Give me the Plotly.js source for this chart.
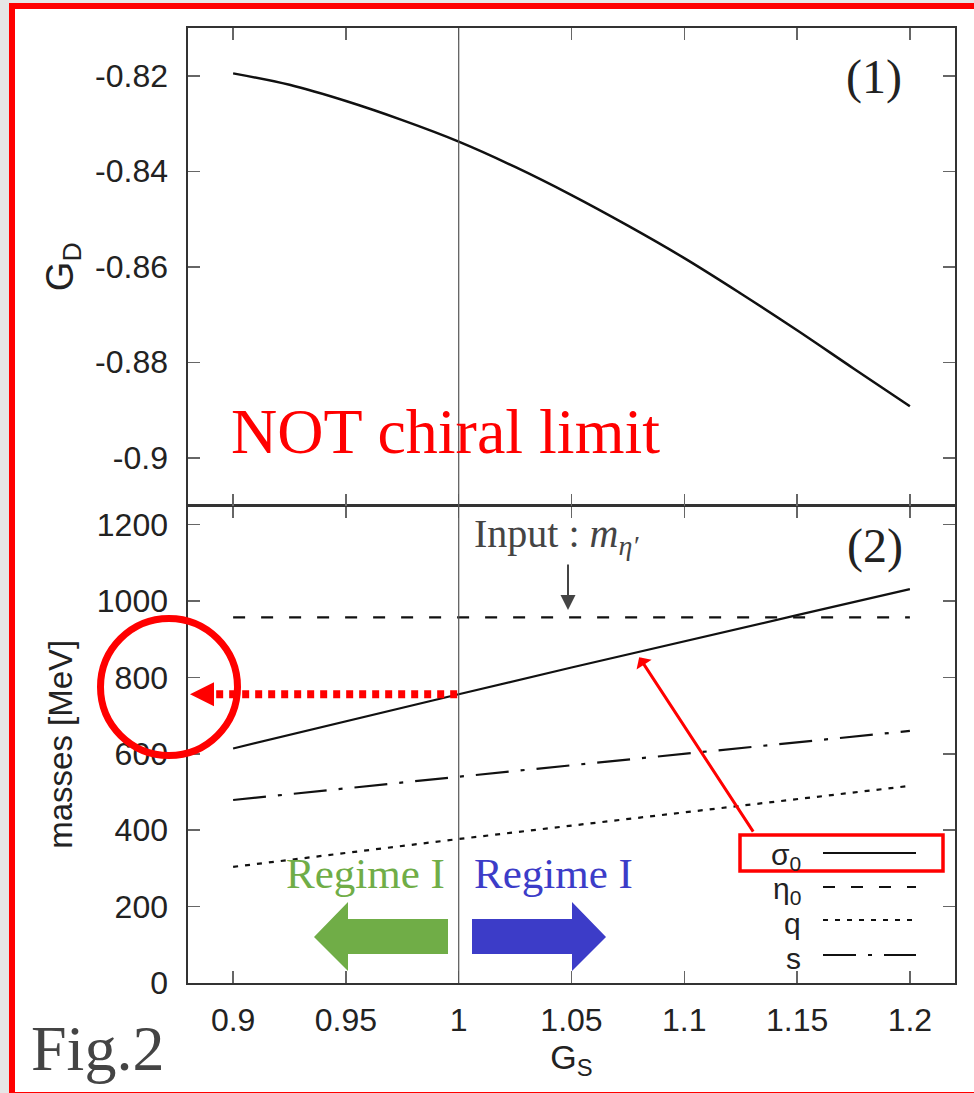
<!DOCTYPE html>
<html>
<head>
<meta charset="utf-8">
<script src="https://cdn.plot.ly/plotly-3.0.1.min.js"></script>
<style>
  html, body { margin: 0; padding: 0; background: #e6e6e6; }
  #wrap { position: relative; width: 974px; height: 1093px; overflow: hidden; }
  #frame { position: absolute; left: 9px; top: 3px; width: 959px; height: 1083px;
           border: 6px solid #ff0000; background: #ffffff; box-sizing: content-box; }
  #plot { position: absolute; left: 0; top: 0; width: 974px; height: 1093px; }
</style>
</head>
<body>
<div id="wrap">
  <div id="frame"></div>
  <div id="plot"></div>
</div>
<script>
// ---- data ----
const gsFine = [0.9, 0.925, 0.95, 0.975, 1.0, 1.025, 1.05, 1.075, 1.1, 1.125, 1.15, 1.175, 1.2];
const gD = [-0.8195, -0.8219, -0.8253, -0.8293, -0.8338, -0.8391, -0.8450, -0.8514, -0.8582, -0.8656, -0.8733, -0.8813, -0.8892];

const gs = [0.9, 0.95, 1.0, 1.05, 1.1, 1.15, 1.2];
const sigma0 = [614, 686, 756, 826, 895, 963, 1031];
const eta0 = [957, 957, 957, 957, 957, 957, 957];
const quark = [304, 341, 377, 412, 447, 482, 516];
const strange = [479, 510, 540, 570, 600, 630, 660];

const xTickVals = [0.9, 0.95, 1.0, 1.05, 1.1, 1.15, 1.2];
const xTickText = ['0.9', '0.95', '1', '1.05', '1.1', '1.15', '1.2'];
const gdTickVals = [-0.82, -0.84, -0.86, -0.88, -0.9];
const gdTickText = ['-0.82', '-0.84', '-0.86', '-0.88', '-0.9'];
const massTickVals = [0, 200, 400, 600, 800, 1000, 1200];
const massTickText = ['0', '200', '400', '600', '800', '1000', '1200'];

const seriesNames = ['σ<sub>0</sub>', 'η<sub>0</sub>', 'q', 's'];

// ---- layout helpers ----
const W = 974, H = 1093;
const M = {l: 188, r: 19, t: 28, b: 110};
const PW = W - M.l - M.r, PH = H - M.t - M.b;
const PX = px => (px - M.l) / PW;          // pixel -> paper x
const PY = py => (H - M.b - py) / PH;      // pixel -> paper y
const xRange = [0.88, 1.22];
const massRange = [0, 1250];
const gdRange = [-0.91, -0.81];
const dataToPaperX = v => (v - xRange[0]) / (xRange[1] - xRange[0]);
const massToPaperY = v => (v - massRange[0]) / (massRange[1] - massRange[0]) * 0.5;

const sans = 'Liberation Sans, Arial, sans-serif';
const serif = 'Liberation Serif, Times New Roman, serif';
const ink = '#111111';

const dashEta = '12px,16px';
const dashQ = '5px,7px';
const dashS = '33px,12px,4px,12px';

const traces = [
  {x: gsFine, y: gD, xaxis: 'x2', yaxis: 'y2', mode: 'lines', line: {color: ink, width: 2.5, shape: 'spline'}, showlegend: false},
  {x: gs, y: sigma0, mode: 'lines', line: {color: ink, width: 2.2}, name: seriesNames[0], showlegend: false},
  {x: gs, y: eta0, mode: 'lines', line: {color: ink, width: 2.2, dash: dashEta}, name: seriesNames[1], showlegend: false},
  {x: gs, y: quark, mode: 'lines', line: {color: ink, width: 2.2, dash: dashQ}, name: seriesNames[2], showlegend: false},
  {x: gs, y: strange, mode: 'lines', line: {color: ink, width: 2.2, dash: dashS}, name: seriesNames[3], showlegend: false}
];

const axisCommon = {
  showgrid: false, zeroline: false, showline: true, linecolor: '#333', linewidth: 1.6,
  mirror: 'ticks', ticks: 'inside', ticklen: 12, tickwidth: 1.5, tickcolor: '#666',
  tickfont: {family: sans, size: 32, color: '#222'}
};

const sig1 = sigma0[gs.indexOf(1.0)];
const legendY = [853, 887, 920, 955];
const legendDash = ['solid', dashEta, dashQ, dashS];

const shapes = [
  // vertical line at G_S = 1
  {type: 'line', xref: 'x', yref: 'paper', x0: 1.0, x1: 1.0, y0: 0, y1: 1, line: {color: '#555', width: 1.2}},
  // red circle around the y-axis value
  {type: 'circle', xref: 'paper', yref: 'paper', x0: PX(100.5), x1: PX(237.5), y0: PY(755.5), y1: PY(618.5), line: {color: '#ff0000', width: 7}},
  // red dotted arrow from sigma0(G_S=1) to the axis
  {type: 'line', xref: 'paper', yref: 'paper', x0: dataToPaperX(1.0) - 0.002, x1: PX(212), y0: massToPaperY(sig1), y1: massToPaperY(sig1), line: {color: '#ff0000', width: 8, dash: '7px,6px'}},
  {type: 'path', xref: 'paper', yref: 'paper', fillcolor: '#ff0000', line: {width: 0},
   path: 'M' + PX(190) + ',' + massToPaperY(sig1) + ' L' + PX(214) + ',' + (massToPaperY(sig1) + 12 / PH) + ' L' + PX(214) + ',' + (massToPaperY(sig1) - 12 / PH) + ' Z'},
  // green (left) and blue (right) block arrows
  {type: 'path', xref: 'paper', yref: 'paper', fillcolor: '#70ad47', line: {width: 0},
   path: 'M' + [[448,919],[348,919],[348,902],[314,937],[348,971],[348,954],[448,954]].map(p => PX(p[0]) + ',' + PY(p[1])).join(' L') + ' Z'},
  {type: 'path', xref: 'paper', yref: 'paper', fillcolor: '#3c3cc8', line: {width: 0},
   path: 'M' + [[472,919],[572,919],[572,902],[606,937],[572,971],[572,954],[472,954]].map(p => PX(p[0]) + ',' + PY(p[1])).join(' L') + ' Z'},
  // red box around sigma0 legend entry
  {type: 'rect', xref: 'paper', yref: 'paper', x0: PX(740), x1: PX(943), y0: PY(871), y1: PY(835), line: {color: '#ff0000', width: 3.5}}
];
legendY.forEach((y, i) => {
  shapes.push({type: 'line', xref: 'paper', yref: 'paper', x0: PX(823), x1: PX(916), y0: PY(y), y1: PY(y),
               line: {color: ink, width: 2.2, dash: legendDash[i]}});
});

const annotations = [
  {text: '(1)', xref: 'paper', yref: 'paper', x: PX(874), y: PY(77), showarrow: false, xanchor: 'center', yanchor: 'middle', font: {family: serif, size: 48, color: '#222'}},
  {text: '(2)', xref: 'paper', yref: 'paper', x: PX(875), y: PY(546), showarrow: false, xanchor: 'center', yanchor: 'middle', font: {family: serif, size: 48, color: '#222'}},
  {text: 'NOT chiral limit', xref: 'paper', yref: 'paper', x: PX(445), y: PY(431), showarrow: false, xanchor: 'center', yanchor: 'middle', font: {family: serif, size: 64, color: '#ff0000'}},
  {text: 'Input : <i>m</i><sub><i>η′</i></sub>', xref: 'paper', yref: 'paper', x: PX(472), y: PY(536), showarrow: false, xanchor: 'left', yanchor: 'middle', font: {family: serif, size: 40, color: '#444'}},
  {text: '', xref: 'paper', yref: 'paper', x: PX(568), y: PY(610), showarrow: true, ax: 0, ay: -47, arrowhead: 2, arrowsize: 1.5, arrowwidth: 2, arrowcolor: '#444'},
  {text: '', xref: 'x', yref: 'y', x: 1.08, y: 853, showarrow: true, ax: 115, ay: 176, arrowhead: 1, arrowsize: 1, arrowwidth: 3, arrowcolor: '#ff0000'},
  {text: 'Regime I', xref: 'paper', yref: 'paper', x: PX(365), y: PY(873), showarrow: false, xanchor: 'center', yanchor: 'middle', font: {family: serif, size: 43, color: '#70ad47'}},
  {text: 'Regime I', xref: 'paper', yref: 'paper', x: PX(553), y: PY(873), showarrow: false, xanchor: 'center', yanchor: 'middle', font: {family: serif, size: 43, color: '#3c3cc8'}},
  {text: 'Fig.2', xref: 'paper', yref: 'paper', x: PX(29), y: PY(1048), showarrow: false, xanchor: 'left', yanchor: 'middle', font: {family: serif, size: 64, color: '#444'}}
];
seriesNames.forEach((n, i) => {
  annotations.push({text: n, xref: 'paper', yref: 'paper', x: PX(803), y: PY(legendY[i] + 3), showarrow: false,
                    xanchor: 'right', yanchor: 'middle', font: {family: sans, size: 30, color: '#222'}});
});

const layout = {
  width: W, height: H,
  margin: M,
  paper_bgcolor: 'rgba(0,0,0,0)', plot_bgcolor: 'rgba(0,0,0,0)',
  font: {family: sans, color: '#222'},
  showlegend: false,
  xaxis: Object.assign({}, axisCommon, {
    domain: [0, 1], anchor: 'y', range: xRange, tickvals: xTickVals, ticktext: xTickText,
    ticklabelstandoff: 8,
    title: {text: 'G<sub>S</sub>', font: {family: sans, size: 34, color: '#222'}, standoff: 8}
  }),
  yaxis: Object.assign({}, axisCommon, {
    domain: [0, 0.5], anchor: 'x', range: massRange, tickvals: massTickVals, ticktext: massTickText,
    ticklabelstandoff: 12,
    title: {text: 'masses [MeV]', font: {family: sans, size: 33, color: '#222'}, standoff: 14}
  }),
  xaxis2: Object.assign({}, axisCommon, {
    domain: [0, 1], anchor: 'y2', range: xRange, matches: 'x', tickvals: xTickVals, showticklabels: false
  }),
  yaxis2: Object.assign({}, axisCommon, {
    domain: [0.5, 1], anchor: 'x2', range: gdRange, tickvals: gdTickVals, ticktext: gdTickText,
    ticklabelstandoff: 12,
    title: {text: 'G<sub>D</sub>', font: {family: sans, size: 38, color: '#222'}, standoff: 10}
  }),
  shapes: shapes,
  annotations: annotations
};

Plotly.newPlot('plot', traces, layout, {staticPlot: true, displayModeBar: false});
</script>
</body>
</html>
